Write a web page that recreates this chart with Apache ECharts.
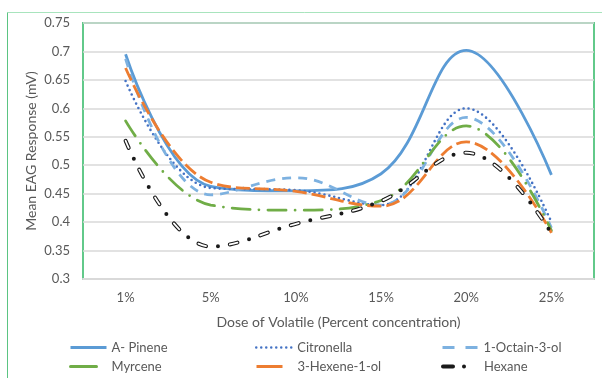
<!DOCTYPE html>
<html><head><meta charset="utf-8">
<script src="https://cdn.jsdelivr.net/npm/echarts@6/dist/echarts.min.js"></script>
<style>html,body{margin:0;padding:0;background:#fff}#c{width:602px;height:378px}</style>
</head><body><div id="c"></div>
<script>
const categories = ['1%', '5%', '10%', '15%', '20%', '25%'];
const aPinene    = [0.695, 0.463, 0.455, 0.485, 0.702, 0.483];
const citronella = [0.648, 0.460, 0.456, 0.430, 0.600, 0.400];
const octainol   = [0.687, 0.448, 0.478, 0.430, 0.584, 0.390];
const myrcene    = [0.578, 0.430, 0.421, 0.438, 0.569, 0.385];
const hexenol    = [0.671, 0.470, 0.454, 0.428, 0.541, 0.381];
const hexane     = [0.543, 0.357, 0.397, 0.437, 0.522, 0.380];
const yMin = 0.3, yMax = 0.75, yStep = 0.05;

const FONT = 'Lato';
const TXT = '#595959';
const SMOOTH = 0.4;

function line(name, data, ls, extra) {
  return Object.assign({
    name: name, type: 'line', data: data, smooth: SMOOTH, symbol: 'none',
    color: ls.color, itemStyle: { color: ls.color },
    lineStyle: ls, emphasis: { disabled: true }
  }, extra || {});
}

function leg(name, left, top, ls) {
  return {
    data: [name], left: left, top: top, itemWidth: 36, itemHeight: 14, padding: 0,
    selectedMode: false, textStyle: { fontFamily: FONT, fontSize: 13, color: TXT },
    itemStyle: { color: 'rgba(0,0,0,0)', borderColor: 'rgba(0,0,0,0)', borderWidth: 0, opacity: 0 },
    lineStyle: ls
  };
}

const chart = echarts.init(document.getElementById('c'), null, { renderer: 'canvas' });
chart.setOption({
  animation: false,
  backgroundColor: '#fff',
  graphic: [
    { type: 'line', shape: { x1: 7.5, y1: 12.5, x2: 602, y2: 12.5 }, style: { stroke: '#A8E4BD', lineWidth: 1 } },
    { type: 'line', shape: { x1: 7.5, y1: 12.5, x2: 7.5, y2: 378 }, style: { stroke: '#5BC482', lineWidth: 1 } }
  ],
  grid: { left: 83, right: 8, top: 23, bottom: 99, show: true, borderColor: '#62C98A', borderWidth: 2 },
  xAxis: {
    type: 'category', data: categories, boundaryGap: true,
    name: 'Dose of Volatile (Percent concentration)', nameLocation: 'middle', nameGap: 36,
    nameMoveOverlap: false,
    nameTextStyle: { fontFamily: FONT, fontSize: 14, color: TXT },
    axisLine: { lineStyle: { color: '#D9D9D9', width: 2 } },
    axisTick: { show: false },
    axisLabel: { fontFamily: FONT, fontSize: 13, color: TXT, margin: 12 }
  },
  yAxis: {
    type: 'value', min: yMin, max: yMax, interval: yStep,
    name: 'Mean EAG Response (mV)', nameLocation: 'middle', nameGap: 45,
    nameMoveOverlap: false,
    nameTextStyle: { fontFamily: FONT, fontSize: 14, color: TXT },
    axisLine: { show: false }, axisTick: { show: false },
    axisLabel: { fontFamily: FONT, fontSize: 13, color: TXT, margin: 13,
      formatter: v => String(+v.toFixed(2)) },
    splitLine: { lineStyle: { color: '#D9D9D9', width: 1.5 } }
  },
  legend: [
    leg('A- Pinene', 69, 341, { type: 'solid', width: 3 }),
    leg('Citronella', 255, 341, { type: [0, 5], width: 2.5, cap: 'round' }),
    leg('1-Octain-3-ol', 441, 341, { type: [12, 11], width: 3 }),
    leg('Myrcene', 69, 360, { type: [26, 20], width: 3 }),
    leg('3-Hexene-1-ol', 255, 360, { type: [26, 20], width: 3 }),
    leg('Hexane', 441, 360, { type: [10, 11, 0, 20], width: 4, cap: 'round' })
  ],
  series: [
    line('A- Pinene', aPinene, { color: '#5B9BD5', width: 2.8 }),
    line('Citronella', citronella, { color: '#4472C4', width: 2.6, type: [0, 5], cap: 'round' }),
    line('1-Octain-3-ol', octainol, { color: '#7DB1E0', width: 2.8, type: [9, 7] }),
    line('Myrcene', myrcene, { color: '#70AD47', width: 2.8, type: [18, 9, 0, 9], cap: 'round' }),
    line('3-Hexene-1-ol', hexenol, { color: '#ED7D31', width: 2.8, type: [14, 5] }),
    line('Hexane', hexane, { color: '#1A1A1A', width: 4, type: [8, 12, 0, 12], cap: 'round' }),
    line('Hexane-fill', hexane, { color: '#FFFFFF', width: 1.8, type: [8, 24], cap: 'round' }, { silent: true })
  ]
});
</script></body></html>
